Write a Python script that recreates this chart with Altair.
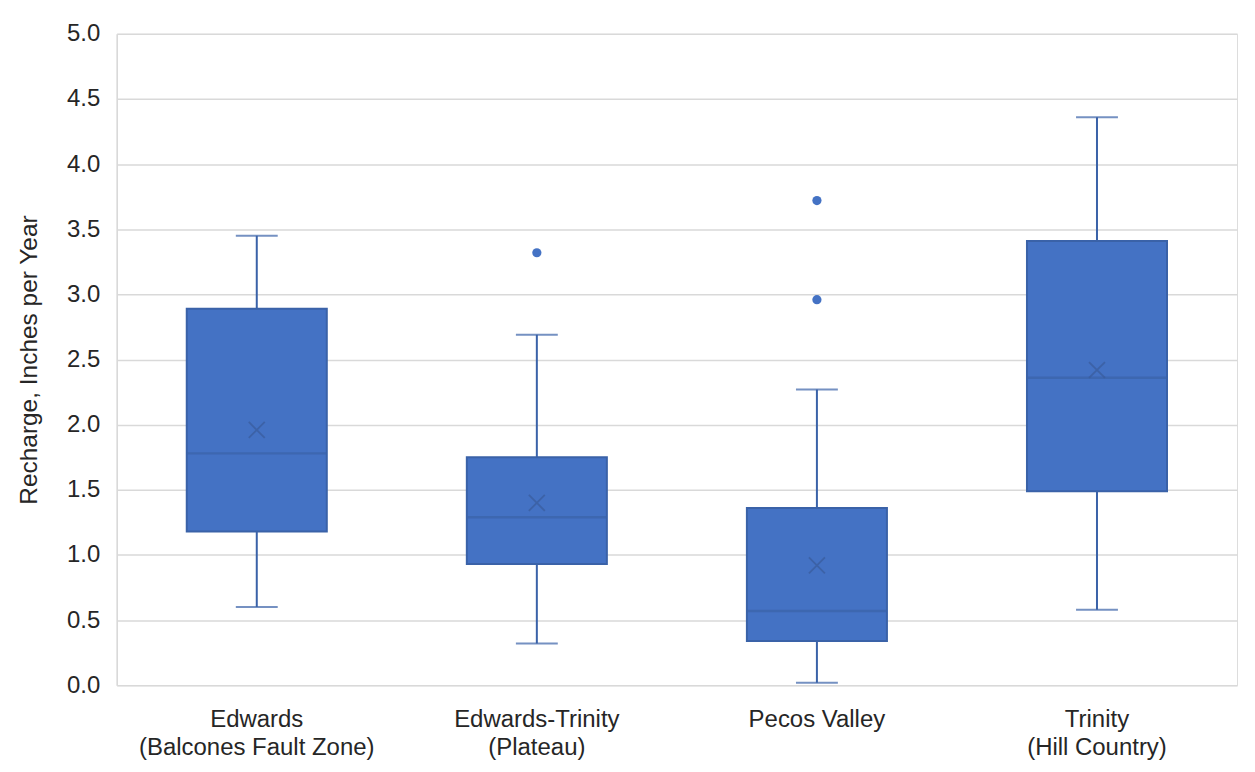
import altair as alt
import pandas as pd

categories = ["Edwards|(Balcones Fault Zone)", "Edwards-Trinity|(Plateau)", "Pecos Valley", "Trinity|(Hill Country)"]
whisker_low = [0.60, 0.32, 0.02, 0.58]
q1 = [1.18, 0.93, 0.34, 1.49]
median = [1.78, 1.29, 0.57, 2.36]
q3 = [2.89, 1.75, 1.36, 3.41]
whisker_high = [3.45, 2.69, 2.27, 4.36]
mean = [1.96, 1.40, 0.92, 2.42]

outlier_cat = ["Edwards-Trinity|(Plateau)", "Pecos Valley", "Pecos Valley"]
outlier_val = [3.32, 3.72, 2.96]

y_ticks = [0.0, 0.5, 1.0, 1.5, 2.0, 2.5, 3.0, 3.5, 4.0, 4.5, 5.0]

stats = pd.DataFrame({
    "cat": categories, "lo": whisker_low, "q1": q1, "med": median,
    "q3": q3, "hi": whisker_high, "mean": mean,
})
outliers = pd.DataFrame({"cat": outlier_cat, "val": outlier_val})

FILL = "#4472C4"
DARK = "#3A62A8"
FONT = "Liberation Sans"

x_enc = alt.X(
    "cat:N", sort=categories, title=None,
    scale=alt.Scale(paddingInner=0.5, paddingOuter=0.25),
    axis=alt.Axis(labelExpr="split(datum.label, '|')", labelAngle=0,
                  labelFontSize=24, labelLineHeight=28, labelPadding=22,
                  labelLimit=500,
                  labelColor="#262626", labelFont=FONT,
                  domain=False, ticks=False),
)
y_scale = alt.Scale(domain=[0, 5], nice=False)
y_axis = alt.Axis(values=y_ticks, format=".1f", title="Recharge, Inches per Year",
                  titleFontSize=24.5, titleFontWeight="normal", titleColor="#262626",
                  titleFont=FONT, titlePadding=25,
                  labelFontSize=24, labelColor="#262626", labelFont=FONT, labelPadding=17,
                  ticks=False, domain=True, domainColor="#D9D9D9", domainWidth=1.5,
                  grid=True, gridColor="#D9D9D9", gridWidth=1.5)

base = alt.Chart(stats)

whisker = base.mark_rule(color=DARK, strokeWidth=2).encode(
    x=x_enc, y=alt.Y("lo:Q", scale=y_scale, axis=y_axis), y2="hi:Q")
caps_hi = base.mark_tick(color=DARK, orient="horizontal", size=42, thickness=2).encode(
    x=alt.X("cat:N", sort=categories), y=alt.Y("hi:Q"))
caps_lo = base.mark_tick(color=DARK, orient="horizontal", size=42, thickness=2).encode(
    x=alt.X("cat:N", sort=categories), y=alt.Y("lo:Q"))
box = base.mark_bar(color=FILL, stroke=DARK, strokeWidth=2).encode(
    x=alt.X("cat:N", sort=categories), y="q1:Q", y2="q3:Q")
med = base.mark_tick(color=DARK, orient="horizontal", size=140, thickness=2.5).encode(
    x=alt.X("cat:N", sort=categories), y="med:Q")
mean_mark = base.mark_point(shape="M-1,-1L1,1M-1,1L1,-1", size=256, filled=False,
                            color="#3A5C9C", strokeWidth=1.8).encode(
    x=alt.X("cat:N", sort=categories), y="mean:Q")
outl = alt.Chart(outliers).mark_circle(color=FILL, size=85, opacity=1).encode(
    x=alt.X("cat:N", sort=categories), y="val:Q")

chart = alt.layer(whisker, caps_hi, caps_lo, box, med, mean_mark, outl).properties(
    width=1123, height=653,
    autosize=alt.AutoSizeParams(type="none"),
    padding={"left": 109, "top": 25, "right": 10, "bottom": 82},
).configure_view(stroke=None).configure(background="white")

chart.save("out.html", embed_options={"renderer": "svg", "actions": False})
